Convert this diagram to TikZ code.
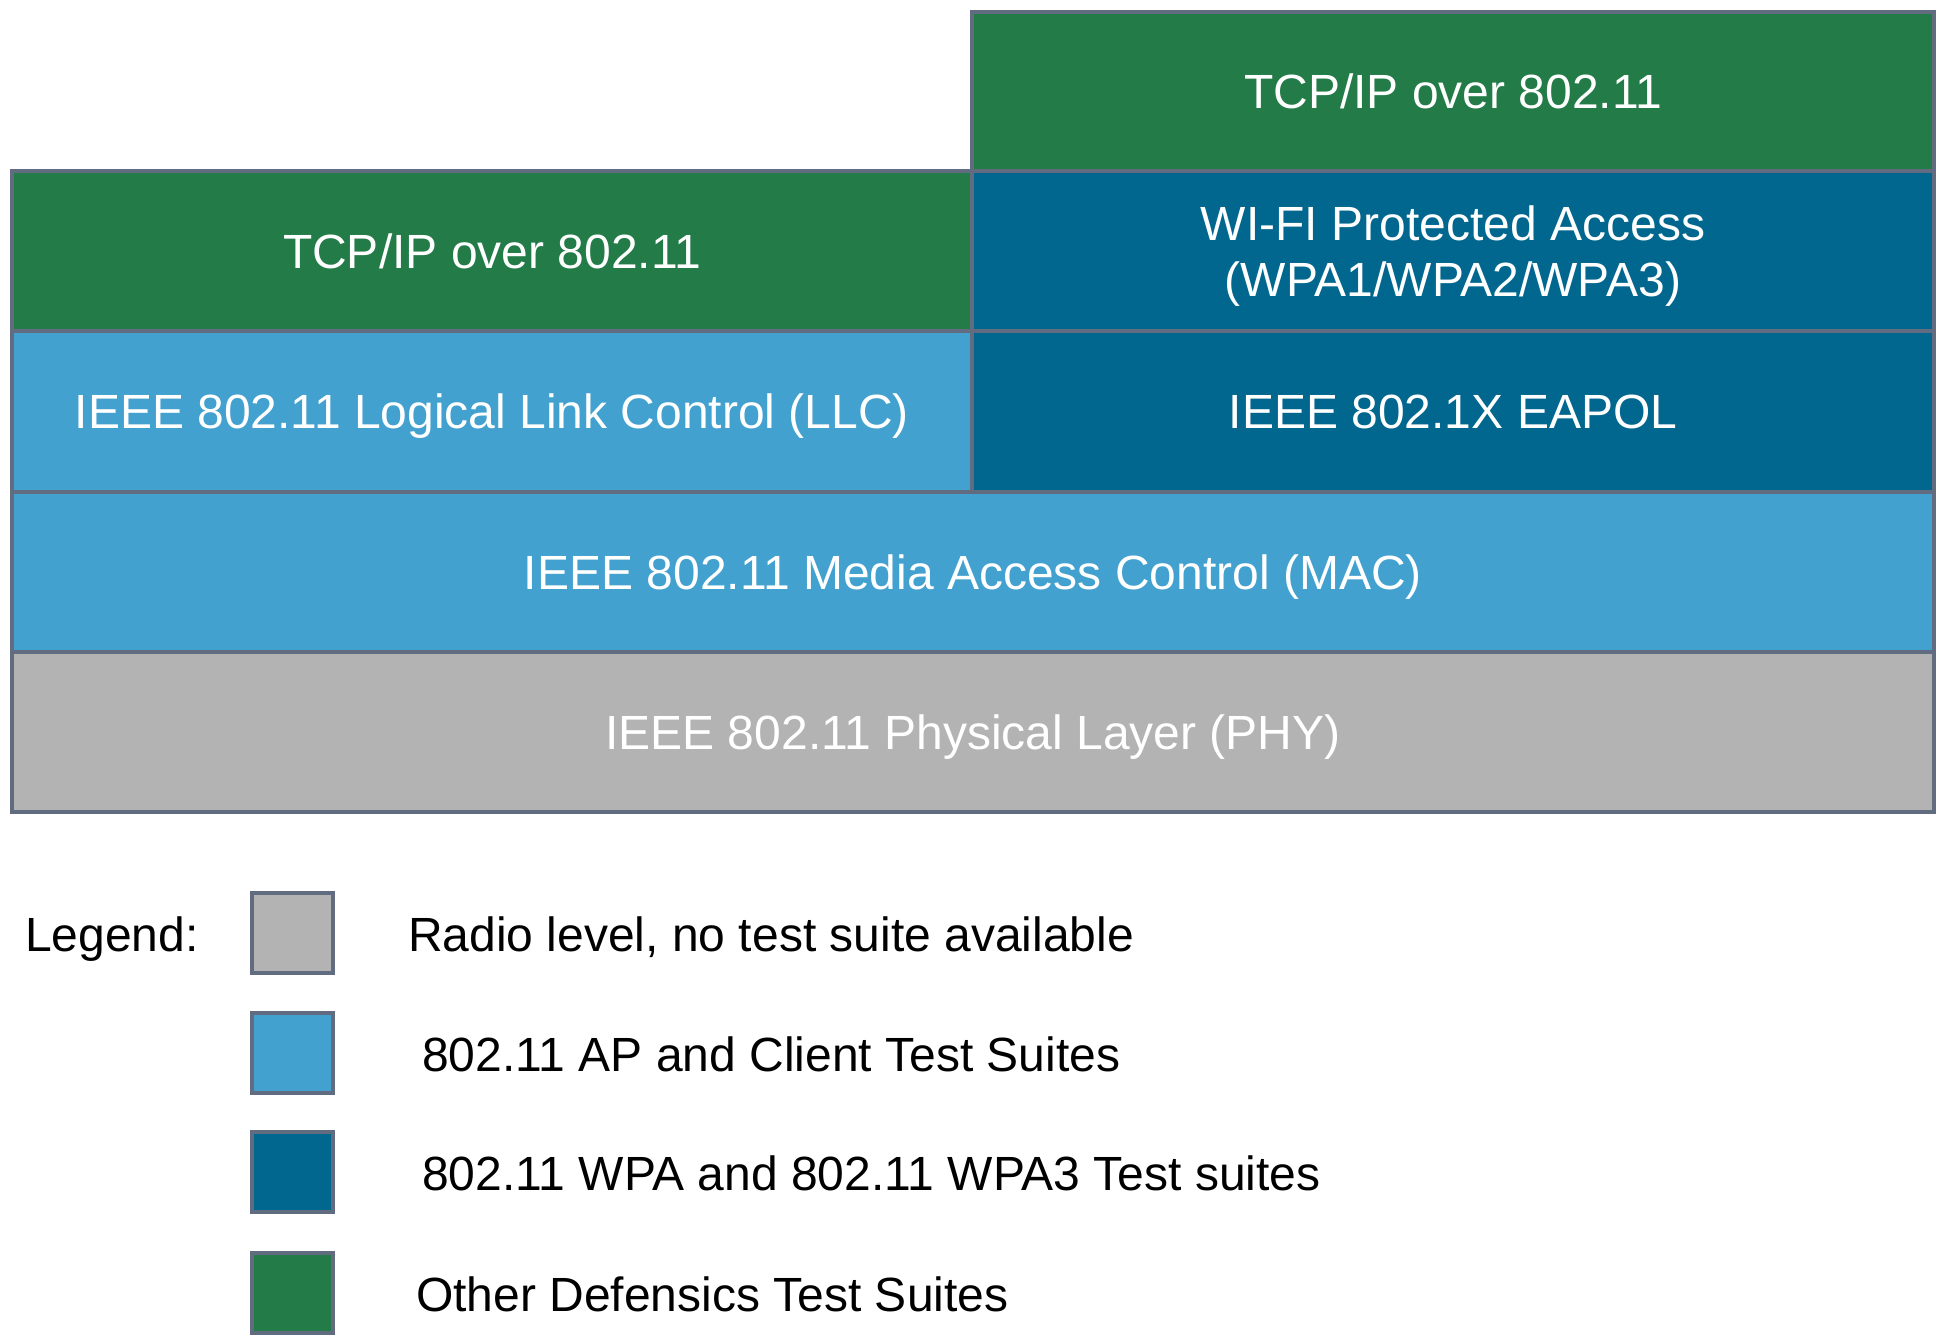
\documentclass[tikz,border=0pt]{standalone}
\usepackage{fontspec}
\setmainfont{Liberation Sans}
\definecolor{bordc}{RGB}{98,108,128}
\definecolor{greenc}{RGB}{35,124,71}
\definecolor{darkbluec}{RGB}{2,103,143}
\definecolor{lightbluec}{RGB}{66,161,206}
\definecolor{grayc}{RGB}{179,179,179}
\tikzset{
  layer/.style={draw=bordc, line width=4pt, rectangle, inner sep=0pt, text=white,
    align=center, font=\fontsize{48}{56}\selectfont, text height=34.4pt, text depth=0pt},
  halfbox/.style={layer, minimum width=960pt, minimum height=160pt},
  fullbox/.style={layer, minimum width=1922pt, minimum height=160pt},
  legbox/.style={draw=bordc, line width=4pt, rectangle, inner sep=0pt, minimum width=81pt, minimum height=80pt},
  legtext/.style={anchor=west, inner sep=0pt, text=black, font=\fontsize{48}{56}\selectfont,
    text height=34.4pt, text depth=0pt}
}
\begin{document}
\begin{tikzpicture}[x=1pt,y=-1pt]
\useasboundingbox (0,0) rectangle (1944,1344);
\fill[white] (0,0) rectangle (1944,1344);
% stack
\node[halfbox, fill=greenc, minimum width=962pt, minimum height=159pt] (tcptop) at (1453,91.5) {TCP/IP over 802.11};
\node[halfbox, fill=greenc] (tcpleft) at (492,251) {TCP/IP over 802.11};
\node[halfbox, fill=darkbluec, minimum width=962pt, text height=90.4pt] (wpa) at (1453,251) {WI-FI Protected Access\\(WPA1/WPA2/WPA3)};
\node[halfbox, fill=lightbluec, minimum height=161pt] (llc) at (492,411.5) {IEEE 802.11 Logical Link Control (LLC)};
\node[halfbox, fill=darkbluec, minimum width=962pt, minimum height=161pt] (eapol) at (1453,411.5) {IEEE 802.1X EAPOL};
\node[fullbox, fill=lightbluec] (mac) at (973,572) {IEEE 802.11 Media Access Control (MAC)};
\node[fullbox, fill=grayc] (phy) at (973,732) {IEEE 802.11 Physical Layer (PHY)};
% legend
\node[legtext] (legend) at (25,934) {Legend:};
\node[legbox, fill=grayc] (lg1) at (292.5,933) {};
\node[legbox, fill=lightbluec] (lg2) at (292.5,1053) {};
\node[legbox, fill=darkbluec] (lg3) at (292.5,1172) {};
\node[legbox, fill=greenc] (lg4) at (292.5,1293) {};
\node[legtext] (lt1) at (408,934) {Radio level, no test suite available};
\node[legtext] (lt2) at (422,1054) {802.11 AP and Client Test Suites};
\node[legtext] (lt3) at (422,1173) {802.11 WPA and 802.11 WPA3 Test suites};
\node[legtext] (lt4) at (416,1294) {Other Defensics Test Suites};
\end{tikzpicture}
\end{document}
